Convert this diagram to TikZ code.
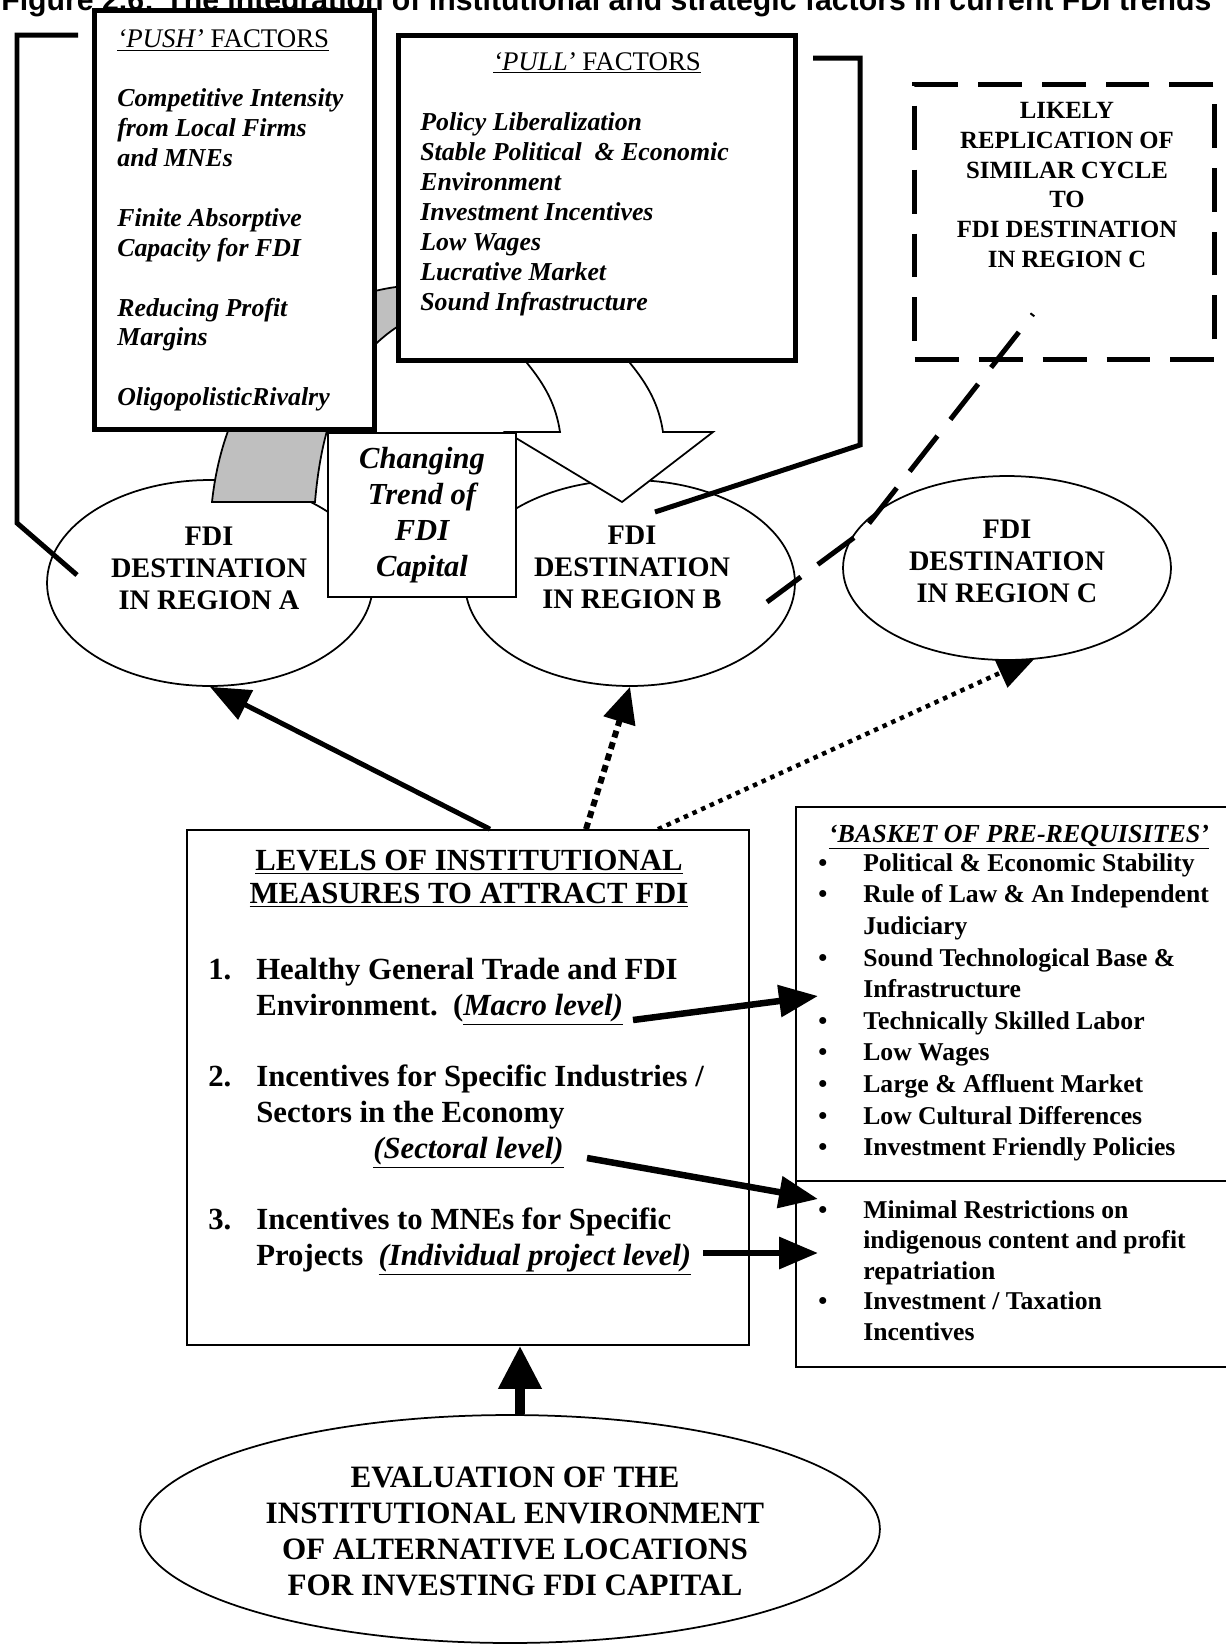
\documentclass[tikz,border=0pt]{standalone}
\usepackage{fontspec}
\setmainfont{Liberation Serif}
\newfontfamily\titlefont{Liberation Sans}
\usetikzlibrary{positioning, arrows.meta, shapes.geometric, calc}

\newcommand{\fsz}[2]{\fontsize{#1}{#2}\selectfont}
\newcommand{\numbox}[1]{\makebox[0.96cm][l]{#1}}
\newcommand{\bulbox}{\makebox[0.9cm][l]{\textbullet}}

\begin{document}
\begin{tikzpicture}[x=0.02cm, y=-0.02cm,
    heavybox/.style={draw, line width=0.1cm, fill=white, inner sep=0pt},
    thinbox/.style={draw, line width=0.035cm, fill=white, inner sep=0pt},
    dest/.style={ellipse, draw, line width=0.035cm, fill=white, inner sep=0pt},
    capstext/.style={align=center, inner sep=0pt, font=\bfseries\fsz{16.1}{18.3}},
    itemtext/.style={align=left, inner sep=0pt, anchor=north west},
    bracketline/.style={line width=0.1cm},
    longdash/.style={line width=0.1cm, dash pattern=on 0.9cm off 0.42cm, dash phase=0.86cm},
    solidarrow/.style={line width=0.1cm, -{Triangle[length=0.8cm, width=0.64cm]}},
    dotarrow/.style={line width=0.12cm, dash pattern=on 0.14cm off 0.1cm, -{Triangle[length=0.72cm, width=0.64cm]}},
    finedotarrow/.style={line width=0.09cm, dash pattern=on 0.09cm off 0.1cm, -{Triangle[length=0.8cm, width=0.64cm]}},
    bigarrow/.style={line width=0.13cm, -{Triangle[length=0.78cm, width=0.62cm]}},
    fatarrow/.style={line width=0.2cm, -{Triangle[length=0.86cm, width=0.82cm]}},
]
\useasboundingbox (0,0) rectangle (1225,1644);

\node[anchor=base west, inner sep=0pt, font=\titlefont\bfseries\fsz{17.2}{20}] (title) at (1,10)
  {Figure 2.6: The integration of institutional and strategic factors in current FDI trends};

% destinations A and B
\node[dest, minimum width=6.52cm, minimum height=4.12cm] (ellA) at (210,583) {};
\node[dest, minimum width=6.6cm, minimum height=4.12cm] (ellB) at (630,583) {};

% grey curved band behind the push box
\draw[line width=0.035cm, fill=black!25] (430,283) -- (396,287)
  .. controls (300,300) and (225,380) .. (212,502) -- (315,502)
  .. controls (322,420) and (345,360) .. (400,325) -- (430,315) -- cycle;

% block arrow under the pull box
\draw[line width=0.035cm, fill=white] (525,350) -- (527,363)
  .. controls (545,385) and (556,405) .. (560,432) -- (506,432) -- (622,502)
  -- (713,432) -- (663,432) .. controls (659,405) and (648,385) .. (630,363) -- (628,350) -- cycle;

\node[thinbox, minimum width=3.76cm, minimum height=3.28cm, align=center,
  font=\bfseries\itshape\fsz{17.4}{20.5}] (trend) at (422,515) {Changing\\Trend of\\FDI\\Capital};

% push and pull boxes
\node[heavybox, minimum width=5.6cm, minimum height=8.38cm] (push) at (234.5,220) {};
\node[heavybox, minimum width=7.94cm, minimum height=6.5cm] (pull) at (597,198) {};

\node[itemtext, font=\bfseries\itshape\fsz{14.7}{17}] (pushtext) at (117,29)
  {{\mdseries\fsz{15.3}{17}\underline{\textit{`PUSH'} \upshape FACTORS}}\\[17pt]
   Competitive Intensity\\from Local Firms\\and MNEs\\[17pt]
   Finite Absorptive\\Capacity for FDI\\[17pt]
   Reducing Profit\\Margins\\[17pt]
   OligopolisticRivalry};

\node[anchor=base, inner sep=0pt, font=\fsz{15.3}{17}] (pullhead) at (597,70)
  {\underline{\textit{`PULL'} FACTORS}};
\node[itemtext, font=\bfseries\itshape\fsz{14.7}{17.07}] (pulltext) at (420,112)
  {Policy Liberalization\\Stable Political~ \& Economic\\Environment\\Investment Incentives\\Low Wages\\Lucrative Market\\Sound Infrastructure};

% brackets round the boxes
\coordinate (pushL) at (78,35);
\coordinate (destAin) at (77,575);
\draw[bracketline] (pushL) -- (17,35) -- (17,523) -- (destAin);
\coordinate (pullR) at (813,58);
\coordinate (destBin) at (655,512);
\draw[bracketline] (pullR) -- (860,58) -- (860,445) -- (destBin);

% likely replication
\node[draw, line width=0.1cm, dash pattern=on 0.88cm off 0.4cm, minimum width=6cm, minimum height=5.5cm, inner sep=0pt] (likely) at (1064.5,222) {};
\node[capstext, font=\bfseries\fsz{14.1}{17.07}] (likelytext) at (1067,185)
  {LIKELY\\REPLICATION OF\\SIMILAR CYCLE\\TO\\FDI DESTINATION\\IN REGION C};

\node[capstext] (txtA) at (209,568.5) {FDI\\DESTINATION\\IN REGION A};
\node[capstext] (txtB) at (632,567.5) {FDI\\DESTINATION\\IN REGION B};

% levels of institutional measures
\node[thinbox, minimum width=11.24cm, minimum height=10.3cm] (levels) at (468,1087.5) {};

\draw[solidarrow] (levels.north -| 490,0) -- (ellA.south);
\draw[dotarrow] (levels.north -| 586,0) -- (ellB.south);
\coordinate (tipC) at (1037,656);
\draw[finedotarrow] (levels.north -| 658,0) -- (tipC);

\node[dest, minimum width=6.56cm, minimum height=3.68cm] (ellC) at (1007,568) {};
\node[capstext] (txtC) at (1007,561.5) {FDI\\DESTINATION\\IN REGION C};

\coordinate (likelyDot) at (1033,314);
\coordinate (destBedge) at (767,602);
\draw[longdash] (likelyDot) -- (863,531) -- (destBedge);

\node[anchor=north, inner sep=0pt, align=center, font=\bfseries\fsz{17.5}{18.8}] (levelshead) at (469,850)
  {\underline{LEVELS OF INSTITUTIONAL}\\\underline{MEASURES TO ATTRACT FDI}};
\node[itemtext, font=\bfseries\fsz{17.5}{20.3}] (levelitems) at (208,958)
  {\numbox{1.}Healthy General Trade and FDI\\
   \numbox{}Environment.~~(\underline{\itshape Macro level)}\\[20.3pt]
   \numbox{2.}Incentives for Specific Industries /\\
   \numbox{}Sectors in the Economy\\
   \hspace*{3.3cm}\underline{\itshape (Sectoral level)}\\[20.3pt]
   \numbox{3.}Incentives to MNEs for Specific\\
   \numbox{}Projects~~\underline{\itshape (Individual project level)}};

% basket of pre-requisites
\node[thinbox, minimum width=8.88cm, minimum height=11.2cm] (basket) at (1018,1087) {};
\draw[line width=0.035cm] (basket.west |- 0,1181) -- (basket.east |- 0,1181);
\node[anchor=base, inner sep=0pt, font=\bfseries\itshape\fsz{14.8}{18}] (baskethead) at (1019,842)
  {\underline{`BASKET OF PRE-REQUISITES'}};
\node[itemtext, font=\bfseries\fsz{14.6}{18}] (basketitems) at (818,853)
  {\bulbox Political \& Economic Stability\\
   \bulbox Rule of Law \& An Independent\\
   \hspace*{0.9cm}Judiciary\\
   \bulbox Sound Technological Base \&\\
   \hspace*{0.9cm}Infrastructure\\
   \bulbox Technically Skilled Labor\\
   \bulbox Low Wages\\
   \bulbox Large \& Affluent Market\\
   \bulbox Low Cultural Differences\\
   \bulbox Investment Friendly Policies};
\node[itemtext, font=\bfseries\fsz{14.6}{17.4}] (basketextra) at (818,1200)
  {\bulbox Minimal Restrictions on\\
   \hspace*{0.9cm}indigenous content and profit\\
   \hspace*{0.9cm}repatriation\\
   \bulbox Investment / Taxation\\
   \hspace*{0.9cm}Incentives};

\coordinate (macroEnd) at (633,1020);
\coordinate (macroTip) at (818,996);
\coordinate (sectorEnd) at (587,1158);
\coordinate (sectorTip) at (818,1199);
\coordinate (projectEnd) at (703,1253);
\coordinate (projectTip) at (818,1253);
\draw[bigarrow] (macroEnd) -- (macroTip);
\draw[bigarrow] (sectorEnd) -- (sectorTip);
\draw[bigarrow] (projectEnd) -- (projectTip);

% evaluation
\node[dest, minimum width=14.8cm, minimum height=4.56cm] (evalE) at (510,1529) {};
\node[capstext, font=\bfseries\fsz{17.7}{20.5}] (evaltext) at (515,1531)
  {EVALUATION OF THE\\INSTITUTIONAL ENVIRONMENT\\OF ALTERNATIVE LOCATIONS\\FOR INVESTING FDI CAPITAL};
\draw[fatarrow] (evalE.north -| 520,0) -- (levels.south -| 520,0);
\end{tikzpicture}
\end{document}
